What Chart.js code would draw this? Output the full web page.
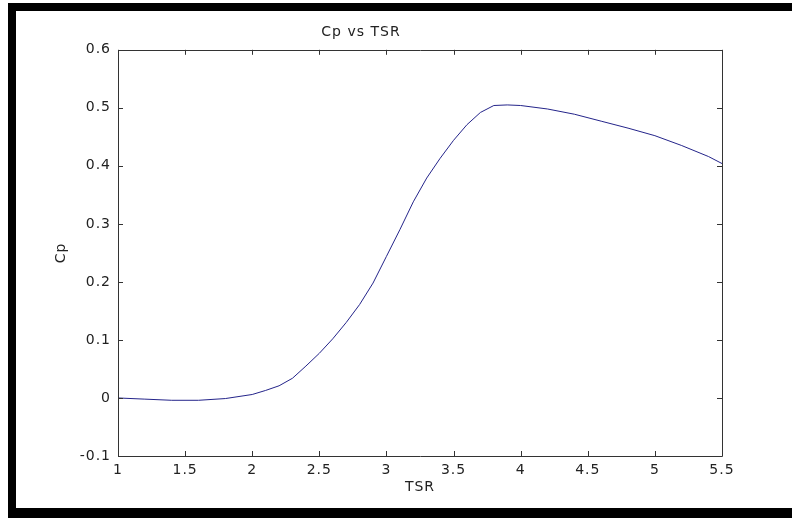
<!DOCTYPE html>
<html>
<head>
<meta charset="utf-8">
<script src="https://cdn.jsdelivr.net/npm/chart.js@4/dist/chart.umd.min.js"></script>
<style>
  html, body { margin: 0; padding: 0; background: #fff; }
  #wrap { position: relative; width: 792px; height: 518px; overflow: hidden; }
  #frame { position: absolute; left: 8px; top: 3px; width: 800px; height: 515px;
           border-left: 8px solid #000; border-top: 8px solid #000; border-bottom: 10px solid #000;
           box-sizing: border-box; pointer-events: none; }
  canvas { position: absolute; left: 0; top: 0; }
</style>
</head>
<body>
<div id="wrap">
  <canvas id="c" width="792" height="518"></canvas>
  <div id="frame"></div>
</div>
<script>
const chartTitle = "Cp vs TSR";
const xTitle = "TSR";
const yTitle = "Cp";
const tsr = [1.0, 1.2, 1.4, 1.6, 1.8, 2.0, 2.1, 2.2, 2.3, 2.4, 2.5, 2.6, 2.7, 2.8, 2.9, 3.0, 3.1, 3.2, 3.3, 3.4, 3.5, 3.6, 3.7, 3.8, 3.9, 4.0, 4.2, 4.4, 4.6, 4.8, 5.0, 5.2, 5.4, 5.5];
const cp  = [0.000, -0.002, -0.004, -0.004, -0.001, 0.006, 0.013, 0.021, 0.034, 0.055, 0.077, 0.102, 0.130, 0.161, 0.198, 0.244, 0.290, 0.338, 0.379, 0.413, 0.444, 0.471, 0.492, 0.504, 0.505, 0.504, 0.498, 0.489, 0.477, 0.465, 0.452, 0.435, 0.416, 0.404];
const xTickLabels = ["1", "1.5", "2", "2.5", "3", "3.5", "4", "4.5", "5", "5.5"];
const yTickLabels = ["-0.1", "0", "0.1", "0.2", "0.3", "0.4", "0.5", "0.6"];

const xTickValues = xTickLabels.map(Number);
const yTickValues = yTickLabels.map(Number);

const FONT = "'DejaVu Sans', sans-serif";
const FSIZE = 14;
const TEXT = "#222222";
const AXIS = "#333333";

const spacing = {
  id: 'spacing',
  beforeLayout(chart) { chart.ctx.letterSpacing = '1px'; },
  beforeDraw(chart) { chart.ctx.letterSpacing = '1px'; }
};

const boxTicks = {
  id: 'boxTicks',
  afterDraw(chart) {
    const ctx = chart.ctx;
    const a = chart.chartArea;
    const xs = chart.scales.x, ys = chart.scales.y;
    const L = 5;
    ctx.save();
    ctx.strokeStyle = AXIS;
    ctx.lineWidth = 1;
    ctx.beginPath();
    ctx.rect(Math.round(a.left) + 0.5, Math.round(a.top) + 0.5,
             Math.round(a.right - a.left), Math.round(a.bottom - a.top));
    xTickValues.forEach(v => {
      const px = Math.round(xs.getPixelForValue(v)) + 0.5;
      ctx.moveTo(px, a.bottom); ctx.lineTo(px, a.bottom - L);
      ctx.moveTo(px, a.top); ctx.lineTo(px, a.top + L);
    });
    yTickValues.forEach(v => {
      const py = Math.round(ys.getPixelForValue(v)) + 0.5;
      ctx.moveTo(a.left, py); ctx.lineTo(a.left + L, py);
      ctx.moveTo(a.right, py); ctx.lineTo(a.right - L, py);
    });
    ctx.stroke();
    ctx.restore();
  }
};

new Chart(document.getElementById('c'), {
  type: 'line',
  data: {
    datasets: [{
      data: tsr.map((x, i) => ({ x: x, y: cp[i] })),
      borderColor: '#24248a',
      borderWidth: 1,
      pointRadius: 0,
      tension: 0,
      fill: false
    }]
  },
  options: {
    responsive: false,
    animation: false,
    devicePixelRatio: 1,
    layout: { padding: { left: 0, right: 70, top: 0, bottom: 0 } },
    plugins: {
      legend: { display: false },
      tooltip: { enabled: false },
      title: {
        display: true,
        text: chartTitle,
        color: TEXT,
        font: { family: FONT, size: FSIZE, weight: 'normal' },
        padding: { top: 24, bottom: 9 }
      }
    },
    scales: {
      x: {
        type: 'linear',
        min: 1, max: 5.5,
        afterBuildTicks(s) { s.ticks = xTickValues.map(v => ({ value: v })); },
        afterFit(s) { s.height = 62; },
        grid: { display: false, drawTicks: false },
        border: { display: false },
        ticks: {
          color: TEXT, padding: 6, maxRotation: 0, autoSkip: false,
          font: { family: FONT, size: FSIZE },
          callback: (v) => xTickLabels[xTickValues.indexOf(Number(v))] ?? ''
        },
        title: {
          display: true, text: xTitle, color: TEXT,
          font: { family: FONT, size: FSIZE },
          padding: { top: 0, bottom: 22 }
        }
      },
      y: {
        type: 'linear',
        min: -0.1, max: 0.6,
        afterBuildTicks(s) { s.ticks = yTickValues.map(v => ({ value: v })); },
        afterFit(s) { s.width = 118; },
        grid: { display: false, drawTicks: false },
        border: { display: false },
        ticks: {
          color: TEXT, padding: 7, autoSkip: false,
          font: { family: FONT, size: FSIZE },
          callback: (v) => {
            const i = yTickValues.findIndex(t => Math.abs(t - v) < 1e-9);
            return i >= 0 ? yTickLabels[i] : '';
          }
        },
        title: {
          display: true, text: yTitle, color: TEXT,
          font: { family: FONT, size: FSIZE },
          padding: { top: 53, bottom: 0 }
        }
      }
    }
  },
  plugins: [spacing, boxTicks]
});
</script>
</body>
</html>
